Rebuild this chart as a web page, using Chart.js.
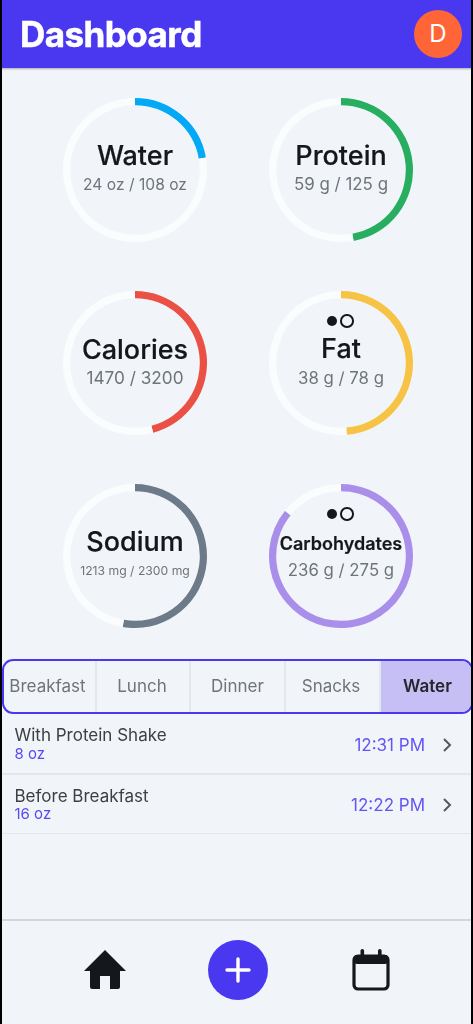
<!DOCTYPE html>
<html><head><meta charset="utf-8">
<script src="https://cdn.jsdelivr.net/npm/chart.js@4"></script>
<style>
html,body{margin:0;padding:0;width:473px;height:1024px;overflow:hidden;background:#f1f5f9;font-family:Inter,"Noto Sans",sans-serif;color:#14181c}
.abs{position:absolute;white-space:nowrap}
#frame{position:absolute;left:0;top:0;width:473px;height:1024px;overflow:hidden;filter:blur(.45px)}
#edgeL,#edgeR{position:absolute;top:-4px;height:1032px;background:#000}
#edgeL{left:-4px;width:6px}#edgeR{right:-4px;width:6px}
#hdr{position:absolute;left:0;top:0;width:473px;height:68px;background:#4a38f0;box-shadow:0 1px 2px rgba(0,0,0,.3)}
#title{left:20px;top:14px;font-size:35px;line-height:40px;font-weight:700;color:#fff;letter-spacing:-.55px;-webkit-text-stroke:.5px #fff}
#avatar{position:absolute;left:414px;top:10px;width:48px;height:48px;border-radius:50%;background:#ff6536;color:#fff;font-size:24px;line-height:48px;text-align:center}
canvas.ring{position:absolute}
.name{transform:translateX(-50%);font-weight:500;text-align:center;-webkit-text-stroke:.2px #14181c}
.sub{transform:translateX(-50%);color:#6f7479;text-align:center}
.dot1{position:absolute;width:10px;height:10px;border-radius:50%;background:#14181c}
.dot2{position:absolute;width:9.5px;height:9.5px;border-radius:50%;border:2.4px solid #14181c}
#tabs{position:absolute;left:2px;top:659px;width:467px;height:51px;border:2px solid #4a38f0;border-radius:11px;overflow:hidden}
.tab{position:absolute;top:0;height:51px;line-height:51px;text-align:center;font-size:17px;color:#6f7479;box-sizing:border-box;border-right:2px solid #e3e6ea}
.tab.on{background:#c5bff5;color:#23262b;font-weight:600;border-right:none;font-size:17px}
.rt{font-size:17px;line-height:22px;color:#3c4045}
.rs{font-size:15px;line-height:18px;color:#5a48f2}
.tm{font-size:17px;line-height:22px;color:#6354f4;text-align:right}
.sep{position:absolute;left:2px;width:469px;background:#e3e6ea}
svg{position:absolute}
</style></head><body><div id="frame">
<div id="hdr"></div>
<div class="abs" id="title">Dashboard</div>
<div id="avatar">D</div>
<div id="rings"></div>
<div id="tabs"></div>
<div id="rows"></div>
<div class="sep" style="top:919px;height:2px;background:#d3d6da"></div>
<svg style="left:83px;top:949px" width="44" height="40" viewBox="0 0 44 40"><path d="M22 1 L43 22 L37 22 L37 38 Q37 40 35 40 L27 40 L27 27 L17 27 L17 40 L9 40 Q7 40 7 38 L7 22 L1 22 Z" fill="#14181c"/></svg>
<div style="position:absolute;left:208px;top:940px;width:60px;height:60px;border-radius:50%;background:#4a38f0"></div>
<svg style="left:224px;top:956px" width="28" height="28" viewBox="0 0 28 28"><path d="M14 3V25M3 14H25" stroke="#fff" stroke-width="3.4" stroke-linecap="round"/></svg>
<svg style="left:351px;top:948px" width="40" height="44" viewBox="0 0 40 44"><rect x="3" y="8" width="34" height="33" rx="4" fill="none" stroke="#14181c" stroke-width="3.2"/><rect x="3" y="7" width="34" height="9" rx="3" fill="#14181c"/><rect x="9.5" y="1" width="3.6" height="9" rx="1.8" fill="#14181c"/><rect x="27" y="1" width="3.6" height="9" rx="1.8" fill="#14181c"/></svg>
<div id="edgeL"></div><div id="edgeR"></div>
</div>
<script>
const names=["Water","Protein","Calories","Fat","Sodium","Carbohydates"];
const consumed=[24,59,1470,38,1213,236];
const goals=[108,125,3200,78,2300,275];
const units=[" oz"," g",""," g"," mg"," g"];
const colors=["#03a9f4","#27ae60","#eb5045","#f6c344","#6c7a89","#a98eea"];
const tabs=["Breakfast","Lunch","Dinner","Snacks","Water"];
const rowTitles=["With Protein Shake","Before Breakfast"];
const rowAmounts=["8 oz","16 oz"];
const rowTimes=["12:31 PM","12:22 PM"];

const cx=[135,341],cy=[170,363,556],R=72.3;
const nameSize=[27,27,27,27,27,18],subSize=[15.6,16.9,17.2,16.8,12.2,16.8];
const host=document.getElementById('rings');
names.forEach((n,i)=>{
  const x=cx[i%2],y=cy[Math.floor(i/2)];
  const c=document.createElement('canvas');c.className='ring';
  c.style.left=(x-R)+'px';c.style.top=(y-R)+'px';
  c.width=c.height=2*R;c.style.width=c.style.height=(2*R)+'px';
  host.appendChild(c);
  new Chart(c,{type:'doughnut',data:{labels:["Consumed","Remaining"],datasets:[{data:[consumed[i],goals[i]-consumed[i]],backgroundColor:[colors[i],"#fbfcfe"],borderWidth:0}]},
    options:{responsive:false,animation:false,cutout:R-7.5,rotation:0,events:[],plugins:{legend:{display:false},tooltip:{enabled:false}},layout:{padding:0}}});
  const nm=document.createElement('div');nm.className='abs name';nm.textContent=n;
  const nt=[31,31,30,31,31,29][i];
  nm.style.cssText=`left:${x}px;top:${y-nt}px;font-size:${nameSize[i]}px;line-height:34px;`+(i==5?'font-weight:600;':'');
  host.appendChild(nm);
  const s=document.createElement('div');s.className='abs sub';
  s.textContent=`${consumed[i]}${units[i]} / ${goals[i]}${units[i]}`;
  s.style.cssText=`left:${x}px;top:${y+(i==5?3:i==1?3:4)}px;font-size:${subSize[i]}px;line-height:22px;`;
  host.appendChild(s);
  if(i==3||i==5){
    const a=document.createElement('div');a.className='dot1';a.style.left=(x-14)+'px';a.style.top=(y-47)+'px';host.appendChild(a);
    const b=document.createElement('div');b.className='dot2';b.style.left=(x-1)+'px';b.style.top=(y-49)+'px';host.appendChild(b);
  }
});
const tb=document.getElementById('tabs');
const tx=[0,93,187,282,377],tw=[93,94,95,95,90],tpr=[4,2,0,3,0],tpl=[0,0,0,0,3];
tabs.forEach((t,i)=>{const d=document.createElement('div');d.className='tab'+(i==4?' on':'');d.textContent=t;d.style.left=tx[i]+'px';d.style.width=tw[i]+'px';
  d.style.paddingRight=tpr[i]+'px';d.style.paddingLeft=tpl[i]+'px';tb.appendChild(d);});
const rows=document.getElementById('rows');
rowTitles.forEach((t,i)=>{
  const top=724+60*i;
  rows.insertAdjacentHTML('beforeend',`<div class="abs rt" style="left:14.5px;top:${top+(i?1:0)}px">${t}</div>
  <div class="abs rs" style="left:14.5px;top:${top+21}px">${rowAmounts[i]}</div>
  <div class="abs tm" style="right:48px;top:${top+10}px">${rowTimes[i]}</div>
  <svg style="left:441px;top:${top+13}px" width="12" height="16" viewBox="0 0 12 16"><path d="M3 2L9 8L3 14" fill="none" stroke="#55595e" stroke-width="2"/></svg>
  <div class="sep" style="top:${i==0?773:833}px;height:${i==0?2:1}px"></div>`);
});
</script></body></html>
